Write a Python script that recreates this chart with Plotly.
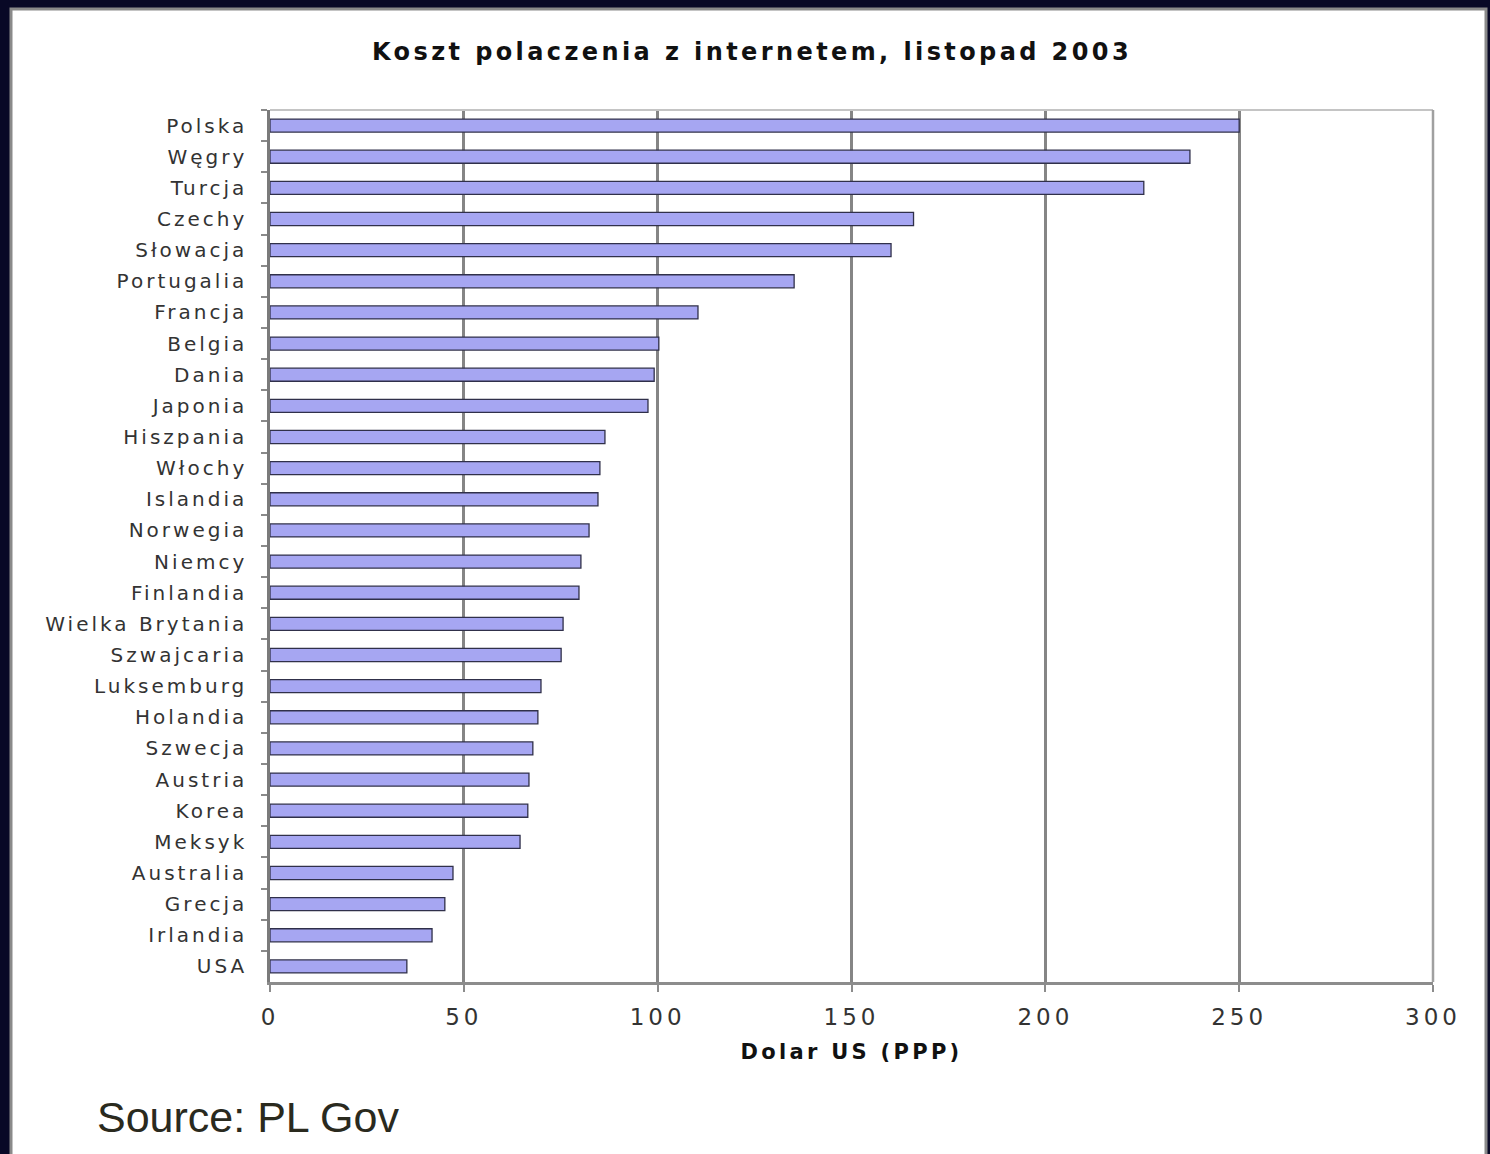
import plotly.graph_objects as go

countries = ["Polska", "Węgry", "Turcja", "Czechy", "Słowacja", "Portugalia", "Francja",
             "Belgia", "Dania", "Japonia", "Hiszpania", "Włochy", "Islandia", "Norwegia",
             "Niemcy", "Finlandia", "Wielka Brytania", "Szwajcaria", "Luksemburg", "Holandia",
             "Szwecja", "Austria", "Korea", "Meksyk", "Australia", "Grecja", "Irlandia", "USA"]
costs = [250, 237.3, 225.4, 166, 160.2, 135.2, 110.4,
         100.3, 99.1, 97.5, 86.4, 85.1, 84.6, 82.3,
         80.2, 79.7, 75.6, 75.1, 69.9, 69.1,
         67.8, 66.8, 66.5, 64.5, 47.2, 45.1, 41.8, 35.3]
x_ticks = [0, 50, 100, 150, 200, 250, 300]

title_text = "Koszt polaczenia z internetem, listopad 2003"
x_title = "Dolar US (PPP)"
source_text = "Source: PL Gov"

W, H = 1490, 1154
L, R, T, B = 270, 1433, 110, 982


def px(xp):
    return (xp - L) / (R - L)


def py(yp):
    return (B - yp) / (B - T)


fig = go.Figure()
fig.add_trace(go.Bar(
    x=costs, y=countries, orientation="h", width=0.42,
    marker=dict(color="#a6a6f2", line=dict(color="#30304a", width=1.3)),
    hoverinfo="x+y"
))

shapes = [
    # white panel
    dict(type="rect", xref="paper", yref="paper", layer="below",
         x0=px(11), x1=px(1486), y0=py(1162), y1=py(9),
         fillcolor="white", line=dict(color="#8a8a8a", width=3)),
    # top border of plot area
    dict(type="line", xref="paper", yref="paper", x0=0, x1=1, y0=1, y1=1,
         line=dict(color="#c4c4c4", width=2)),
    # right border of plot area
    dict(type="line", xref="paper", yref="paper", x0=1, x1=1, y0=0, y1=1,
         line=dict(color="#a0a0a0", width=2.5)),
]

fig.update_layout(
    width=W, height=H,
    margin=dict(l=L, r=W - R, t=T, b=H - B, pad=0),
    paper_bgcolor="#080826",
    plot_bgcolor="white",
    showlegend=False,
    bargap=0.58,
    shapes=shapes,
    title=dict(text=title_text, x=752 / W, y=1 - 52 / H, xref="container", yref="container",
               xanchor="center", yanchor="middle",
               font=dict(family="DejaVu Sans", size=24, color="#111111", weight="bold")),
    annotations=[
        dict(text=source_text, xref="paper", yref="paper", x=px(95), y=py(1117),
             xanchor="left", yanchor="middle", showarrow=False,
             font=dict(family="Liberation Sans", size=43, color="#2a2a1e")),
    ],
)

fig.update_xaxes(
    range=[0, 300], tickvals=x_ticks, ticktext=[str(v) for v in x_ticks],
    showgrid=True, gridcolor="#858585", gridwidth=2.5,
    zeroline=False,
    showline=True, linecolor="#8c8c8c", linewidth=2.5,
    ticks="outside", ticklen=7, tickcolor="#8c8c8c", tickwidth=2,
    ticklabelstandoff=6,
    tickfont=dict(family="DejaVu Sans", size=23, color="#333333"),
    title=dict(text=x_title, standoff=15,
               font=dict(family="DejaVu Sans", size=21, color="#111111", weight="bold")),
)

fig.update_yaxes(
    type="category", categoryorder="array", categoryarray=countries,
    range=[len(countries) - 0.5, -0.5],
    showgrid=False, zeroline=False,
    showline=True, linecolor="#7a7a7a", linewidth=2.5,
    ticks="outside", tickson="boundaries", ticklen=6, tickcolor="#8a8a8a", tickwidth=1.5,
    ticklabelstandoff=16,
    tickfont=dict(family="DejaVu Sans", size=20, color="#333333"),
)

# the original chart uses a horizontally stretched font; emulate with letter spacing
post = """
var st = document.createElement('style');
st.textContent = '.ytick text{letter-spacing:3px}' +
  '.xtick text{letter-spacing:4px}' +
  '.gtitle{letter-spacing:3.4px}' +
  '.xtitle{letter-spacing:3.3px}';
document.head.appendChild(st);
"""

fig.write_html("out.html", post_script=post)
